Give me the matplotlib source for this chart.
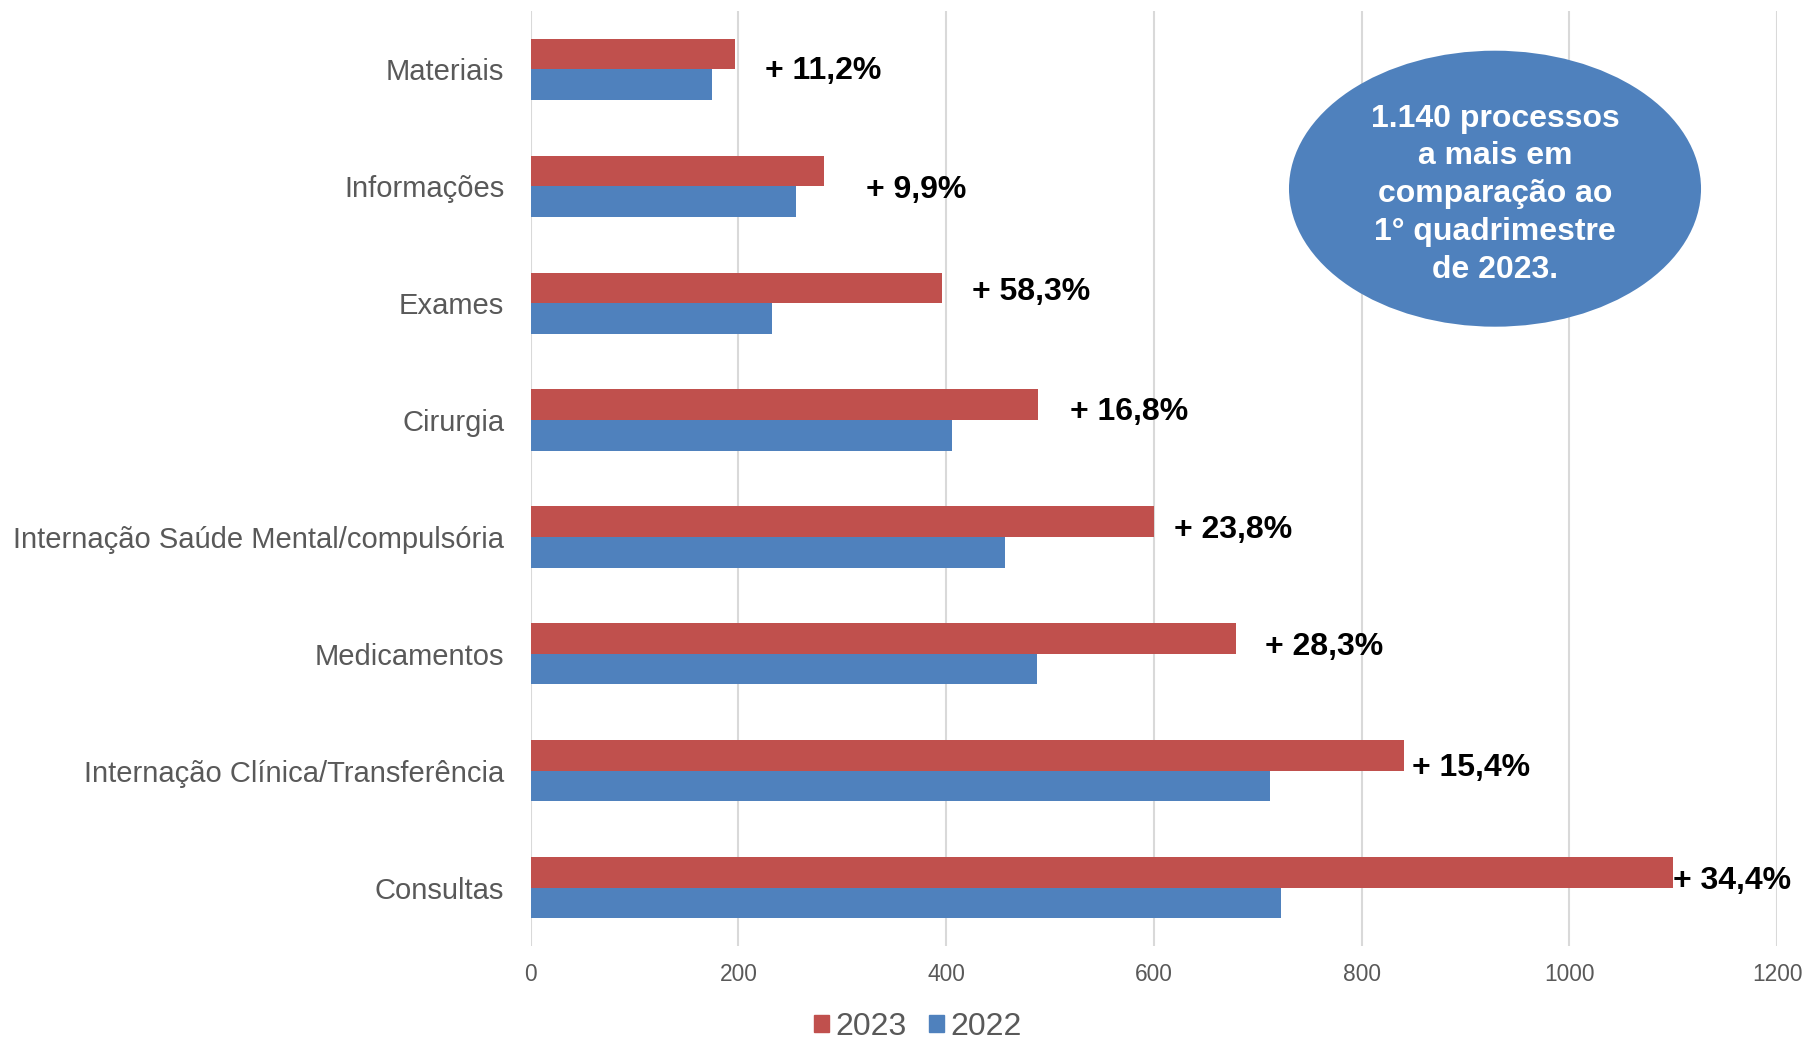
import numpy as np
import matplotlib
matplotlib.use("Agg")
from matplotlib import pyplot as plt
from matplotlib.patches import Ellipse, Patch

plt.rcParams['font.family'] = ['Liberation Sans', 'DejaVu Sans']

categories = ["Materiais", "Informações", "Exames", "Cirurgia",
              "Internação Saúde Mental/compulsória", "Medicamentos",
              "Internação Clínica/Transferência", "Consultas"]
v2023 = [197, 282, 396, 488, 600, 679, 841, 1100]
v2022 = [175, 255, 232, 406, 457, 487, 712, 722]
pct_labels = ["+ 11,2%", "+ 9,9%", "+ 58,3%", "+ 16,8%",
              "+ 23,8%", "+ 28,3%", "+ 15,4%", "+ 34,4%"]
note = "1.140 processos\na mais em\ncomparação ao\n1° quadrimestre\nde 2023."

# hand placed label offsets (data units / category units)
lab_dx = [29, 41, 29, 31, 19, 28, 8, 0]
lab_dy = [0.01, 0.03, -0.10, -0.07, -0.06, -0.06, -0.02, -0.06]

red = "#C0504D"
blue = "#4F81BD"
gray = "#595959"

fig = plt.figure(figsize=(18.1, 10.42), dpi=100)
ax = fig.add_axes([0.2932, 0.0921, 0.6886, 0.8973])

y = np.arange(len(categories))
h = 0.262
ax.barh(y - h / 2, v2023, height=h, color=red, zorder=3)
ax.barh(y + h / 2, v2022, height=h, color=blue, zorder=3)

for i in range(len(categories)):
    ax.text(v2023[i] + lab_dx[i], y[i] + lab_dy[i], pct_labels[i],
            fontsize=23, fontweight="bold", color="black",
            ha="left", va="center", zorder=4)

ax.set_xlim(0, 1200)
ax.set_ylim(len(categories) - 0.5, -0.5)
ax.set_xticks(np.arange(0, 1201, 200))
ax.set_yticks(y)
ax.set_yticklabels(categories)
ax.tick_params(axis="y", length=0, pad=19, labelsize=21, labelcolor=gray)
ax.tick_params(axis="x", length=0, pad=12, labelsize=16.4, labelcolor=gray)
ax.grid(axis="x", color="#D9D9D9", linewidth=1.5, zorder=0)
for s in ax.spines.values():
    s.set_visible(False)

ell = Ellipse((0.7737, 0.810), 0.3306, 0.2952, transform=ax.transAxes,
              facecolor=blue, edgecolor="none", zorder=5, clip_on=False)
ax.add_patch(ell)
ax.text(0.7737, 0.804, note, transform=ax.transAxes, ha="center",
        va="center", color="white", fontsize=23, fontweight="bold",
        linespacing=1.34, zorder=6)

handles = [Patch(color=red, label="2023"), Patch(color=blue, label="2022")]
fig.legend(handles=handles, loc="center", bbox_to_anchor=(0.507, 0.0145),
           ncol=2, frameon=False, fontsize=23, labelcolor=gray,
           handlelength=0.47, handleheight=0.47, handletextpad=0.2,
           columnspacing=0.7, borderpad=0)

fig.savefig("out.png", dpi=100)
